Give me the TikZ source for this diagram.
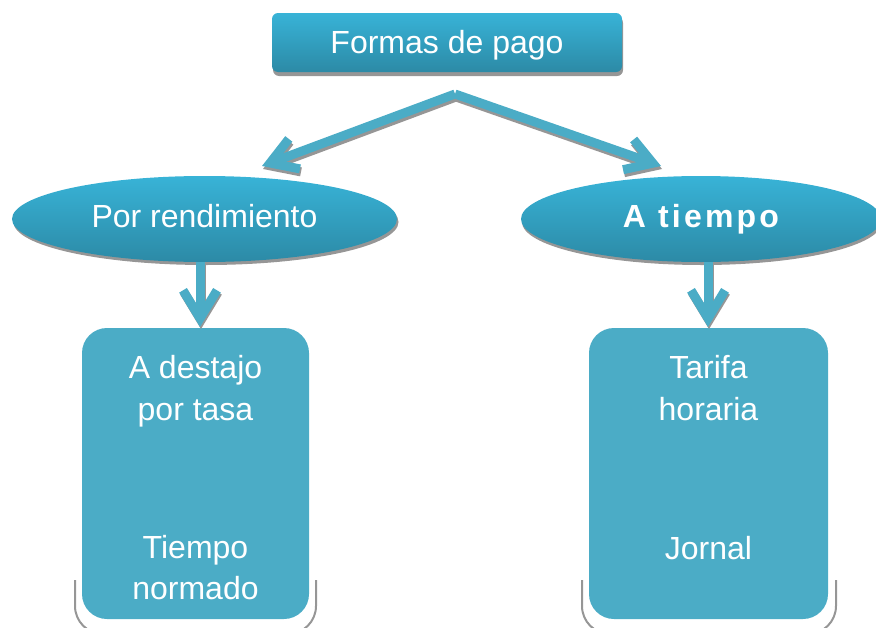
\documentclass[tikz,border=0pt]{standalone}
\usepackage{fontspec}
\setmainfont{Liberation Sans}
\newfontfamily\spacedbold[LetterSpace=10]{Liberation Sans}
\usetikzlibrary{shapes.geometric,arrows.meta}
\definecolor{gtop}{RGB}{56,179,215}
\definecolor{gbot}{RGB}{44,138,166}
\definecolor{boxc}{RGB}{75,172,198}
\definecolor{arrc}{RGB}{75,172,198}
\definecolor{shad}{RGB}{150,150,150}
\tikzset{
  big/.style={font=\fontsize{32}{42}\selectfont, text=white},
  grad/.style={top color=gtop, bottom color=gbot, draw=none},
  shadowfill/.style={fill=shad, draw=none},
  ovalbox/.style={ellipse, minimum width=#1, minimum height=86pt, inner sep=0pt, text height=22pt, text depth=6pt},
  titlebox/.style={rectangle, rounded corners=6pt, minimum width=350pt, minimum height=59pt, inner sep=0pt, text height=23pt, text depth=2pt},
  leafbox/.style={rectangle, rounded corners=25pt, fill=boxc, minimum width=#1, minimum height=291pt, inner sep=0pt},
  linktip/.style={line width=9pt, -{Straight Barb[sharp, length=26pt, width=32pt]}},
  downtip/.style={line width=9pt, -{Straight Barb[sharp, length=28pt, width=34pt]}},
  linkcol/.style={draw=arrc},
  shadcol/.style={draw=shad},
  leafshadow/.style={draw=shad, line width=2pt, rounded corners=28pt}
}
\begin{document}
\begin{tikzpicture}[x=1pt, y=-1pt]
\useasboundingbox (0,0) rectangle (876,627);

% shadows of the title and ovals
\node[titlebox, shadowfill] (topshadow) at (448,46.5) {};
\node[ovalbox=385pt, shadowfill] (prshadow) at (206,222) {};
\node[ovalbox=360pt, shadowfill] (atshadow) at (702,222) {};

% leaf box shadows
\draw[leafshadow] (75,580) -- (75,634) -- (316,634) -- (316,580);
\draw[leafshadow] (582,580) -- (582,634) -- (836,634) -- (836,580);

% nodes
\node[titlebox, grad, big] (top) at (447,42.5) {Formas de pago};
\node[ovalbox=385pt, grad, big] (pr) at (204.5,219) {Por rendimiento};
\node[ovalbox=360pt, grad, big] (atiempo) at (701,219) {\spacedbold\bfseries A tiempo};
\node[leafbox=227pt] (lbox) at (195.5,473.5) {};
\node[leafbox=239pt] (rbox) at (708.5,473.5) {};

% texts in leaf boxes
\node[big, anchor=base] (l1) at (195.5,378) {A destajo};
\node[big, anchor=base] (l2) at (195.5,420) {por tasa};
\node[big, anchor=base] (l3) at (195.5,558) {Tiempo};
\node[big, anchor=base] (l4) at (195.5,599) {normado};
\node[big, anchor=base] (r1) at (708.5,378) {Tarifa};
\node[big, anchor=base] (r2) at (708.5,420) {horaria};
\node[big, anchor=base] (r3) at (708.5,559) {Jornal};

% connector coordinates
\coordinate (apex) at (455,94);
\coordinate (ltip) at (262,166);
\coordinate (rtip) at (661,166);
\coordinate (apexs) at (456,97);
\coordinate (ltips) at (263,169);
\coordinate (rtips) at (662,169);
\coordinate (dls) at (200,262);
\coordinate (dlt) at (200,327);
\coordinate (drs) at (708,262);
\coordinate (drt) at (708,327);
\coordinate (dlss) at (201,262);
\coordinate (dlts) at (201,329);
\coordinate (drss) at (709,262);
\coordinate (drts) at (709,329);

% arrow shadows
\draw[linktip, shadcol] (apexs) -- (ltips);
\draw[linktip, shadcol] (apexs) -- (rtips);
\draw[downtip, shadcol] (dlss) -- (dlts);
\draw[downtip, shadcol] (drss) -- (drts);

% arrows
\draw[linktip, linkcol] (apex) -- (ltip);
\draw[linktip, linkcol] (apex) -- (rtip);
\draw[downtip, linkcol] (dls) -- (dlt);
\draw[downtip, linkcol] (drs) -- (drt);
\end{tikzpicture}
\end{document}
